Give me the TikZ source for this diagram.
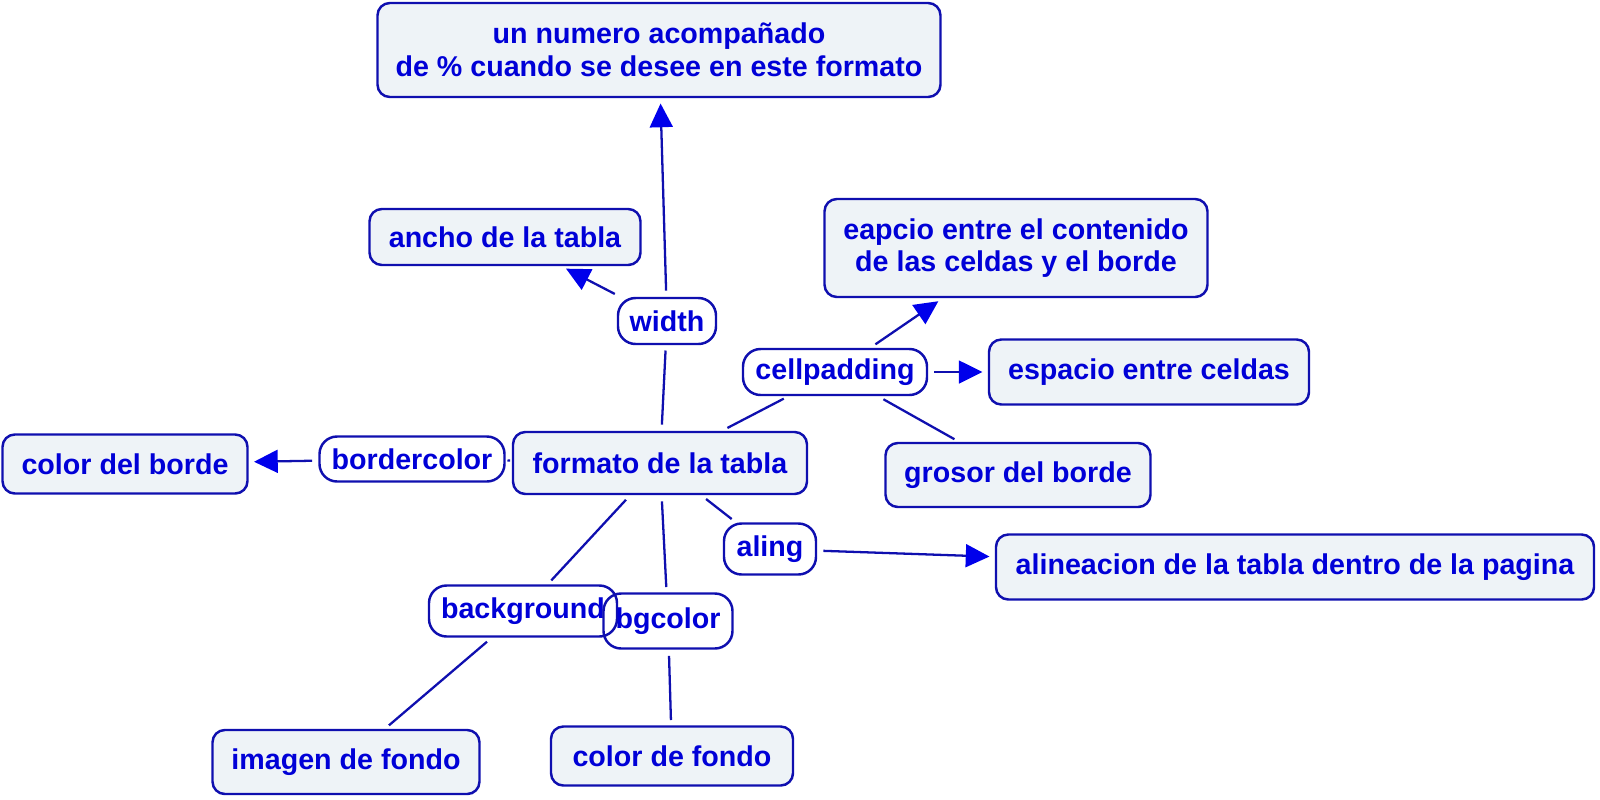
\documentclass[tikz,border=0pt]{standalone}
\usepackage{fontspec}
\setmainfont{Liberation Sans}
\usetikzlibrary{arrows.meta}

\definecolor{cmtext}{RGB}{0,0,215}
\definecolor{cmline}{RGB}{15,15,175}
\definecolor{cmarrow}{RGB}{0,0,235}
\definecolor{cmfill}{RGB}{238,243,247}

\begin{document}
\begin{tikzpicture}[x=0.02cm, y=-0.02cm,
    every node/.style={font=\fontsize{16.3}{18.6}\selectfont\bfseries, text=cmtext,
        inner sep=0pt, align=center},
    concept/.style={draw=cmline, line width=1.4pt, fill=cmfill, rounded corners=7pt},
    phrase/.style={draw=cmline, line width=1.4pt, rounded corners=10pt},
    link/.style={draw=cmline, line width=1.3pt, shorten <=3.5pt, shorten >=3pt},
    arrow/.style={link, -{Triangle[length=13.5pt, width=13pt, color=cmarrow]}}
]
    \useasboundingbox (0,0) rectangle (1600,799);

    % concepts
    \node[concept, minimum width=563*0.02cm, minimum height=94*0.02cm] (numero) at (659,50)
        {un numero acompañado\\de \% cuando se desee en este formato};
    \node[concept, minimum width=271*0.02cm, minimum height=56*0.02cm] (ancho) at (505,237) {ancho de la tabla};
    \node[concept, minimum width=383*0.02cm, minimum height=98*0.02cm] (eapcio) at (1016,248)
        {eapcio entre el contenido\\de las celdas y el borde};
    \node[concept, minimum width=320*0.02cm, minimum height=65*0.02cm] (espacio) at (1149,372) {espacio entre celdas};
    \node[concept, minimum width=265*0.02cm, minimum height=64*0.02cm] (grosor) at (1018,475) {grosor del borde};
    \node[concept, minimum width=245*0.02cm, minimum height=59*0.02cm] (colorborde) at (125,464) {color del borde};
    \node[concept, minimum width=294*0.02cm, minimum height=62*0.02cm] (formato) at (660,463) {formato de la tabla};
    \node[concept, minimum width=598*0.02cm, minimum height=65*0.02cm] (alineacion) at (1295,567)
        {alineacion de la tabla dentro de la pagina};
    \node[concept, minimum width=267*0.02cm, minimum height=64*0.02cm] (imagen) at (346,762) {imagen de fondo};
    \node[concept, minimum width=242*0.02cm, minimum height=59*0.02cm] (colorfondo) at (672,756) {color de fondo};

    % linking phrases
    \node[phrase, minimum width=98*0.02cm, minimum height=46*0.02cm] (width) at (667,321) {width};
    \node[phrase, minimum width=184*0.02cm, minimum height=46*0.02cm] (cellpadding) at (835,372) {cellpadding};
    \node[phrase, minimum width=185*0.02cm, minimum height=45*0.02cm] (bordercolor) at (412,459) {bordercolor};
    \node[phrase, minimum width=92*0.02cm, minimum height=51*0.02cm] (aling) at (770,549) {aling};
    \node[phrase, minimum width=188*0.02cm, minimum height=51*0.02cm] (background) at (523,611) {background};
    \node[phrase, minimum width=129*0.02cm, minimum height=55*0.02cm] (bgcolor) at (668,621) {bgcolor};

    % connections
    \draw[link] (formato) -- (width);
    \draw[arrow] (width) -- (numero);
    \draw[arrow] (width) -- (ancho);
    \draw[link] (formato) -- (cellpadding);
    \draw[arrow] (cellpadding) -- (eapcio);
    \draw[arrow] (cellpadding) -- (espacio);
    \draw[link] (cellpadding) -- (grosor);
    \draw[link, shorten <=1pt, shorten >=1pt] (formato) -- (bordercolor);
    \draw[arrow] (bordercolor) -- (colorborde);
    \draw[link] (formato) -- (aling);
    \draw[arrow] (aling) -- (alineacion);
    \draw[link] (formato) -- (background);
    \draw[link] (formato) -- (bgcolor);
    \draw[link] (background) -- (imagen);
    \draw[link] (bgcolor) -- (colorfondo);
\end{tikzpicture}
\end{document}
